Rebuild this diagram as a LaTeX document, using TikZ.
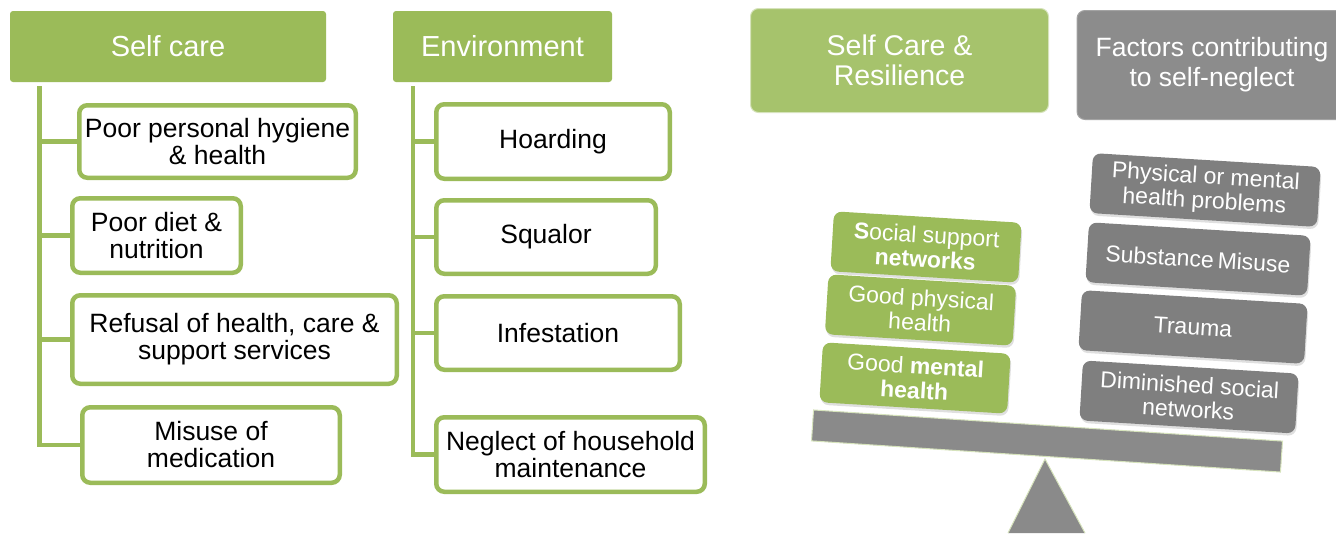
\documentclass[tikz,border=0pt]{standalone}
\usepackage{fontspec}
\setmainfont{Liberation Sans}
\usetikzlibrary{shadows}
\definecolor{grn}{HTML}{9BBB59}
\definecolor{lgrn}{HTML}{A6C36C}
\definecolor{pgrn}{HTML}{D6E3BC}
\definecolor{hgray}{HTML}{8C8C8C}
\definecolor{bgray}{HTML}{7F7F7F}
\definecolor{beamgray}{HTML}{8A8A8A}
\begin{document}
\begin{tikzpicture}[x=1pt,y=-1pt,
  hdr/.style={fill=grn, rounded corners=3pt, text=white, font=\fontsize{29}{31}\selectfont, inner sep=0pt, align=center},
  item/.style={draw=grn, line width=4.5pt, rounded corners=8pt, fill=white, font=\fontsize{26.5}{27}\selectfont, align=center, inner sep=0pt},
  spine/.style={draw=grn, line width=4.5pt},
  bighdr/.style={rounded corners=8pt, text=white, align=center, inner sep=0pt, line width=1pt},
  gbox/.style={fill=grn, rounded corners=8pt, text=white, font=\fontsize{23}{24.5}\selectfont, align=center, inner sep=0pt, rotate=-3.5, minimum width=188pt, minimum height=60pt, drop shadow={opacity=0.25, shadow xshift=1pt, shadow yshift=-2.5pt}},
  ybox/.style={fill=bgray, rounded corners=8pt, text=white, font=\fontsize{23}{24.5}\selectfont, align=center, inner sep=0pt, rotate=-3.5, minimum height=60pt, drop shadow={opacity=0.25, shadow xshift=1pt, shadow yshift=-2.5pt}}
]
\useasboundingbox (0,0) rectangle (1336,533);

% ---------- Self care column ----------
\node[hdr, minimum width=316pt, minimum height=71pt] (sc) at (168,46.5) {Self care};
\node[item, minimum width=276.5pt, minimum height=72.5pt] (s1) at (217.5,141.5) {Poor personal hygiene\\ \& health};
\node[item, minimum width=168.5pt, minimum height=74.5pt] (s2) at (156.5,235.5) {Poor diet \&\\ nutrition};
\node[item, minimum width=324.5pt, minimum height=88.5pt] (s3) at (234.5,339.5) {Refusal of health, care \&\\ support services};
\node[item, minimum width=257.5pt, minimum height=75.5pt] (s4) at (211,445) {Misuse of\\ medication};
\coordinate (sctop) at (39.5,86);
\draw[spine] (sctop) |- (s4.west);
\draw[spine] (sctop |- s1.west) -- (s1.west);
\draw[spine] (sctop |- s2.west) -- (s2.west);
\draw[spine] (sctop |- s3.west) -- (s3.west);

% ---------- Environment column ----------
\node[hdr, minimum width=219pt, minimum height=71pt] (env) at (502.5,46.5) {Environment};
\node[item, minimum width=233.5pt, minimum height=74.5pt] (e1) at (553,141.5) {Hoarding};
\node[item, minimum width=219.5pt, minimum height=73.5pt] (e2) at (546,237) {Squalor};
\node[item, minimum width=243.5pt, minimum height=73.5pt] (e3) at (558,333) {Infestation};
\node[item, minimum width=268.5pt, minimum height=74.5pt] (e4) at (570.5,454.5) {Neglect of household\\ maintenance};
\coordinate (envtop) at (413,86);
\draw[spine] (envtop) |- (e4.west);
\draw[spine] (envtop |- e1.west) -- (e1.west);
\draw[spine] (envtop |- e2.west) -- (e2.west);
\draw[spine] (envtop |- e3.west) -- (e3.west);

% ---------- Balance ----------
\node[bighdr, fill=lgrn, draw=pgrn, minimum width=298pt, minimum height=104pt, font=\fontsize{28.5}{30.5}\selectfont] (res) at (899.5,60.5) {Self Care \&\\ Resilience};
\node[bighdr, fill=hgray, draw=hgray!80!white, minimum width=270pt, minimum height=109pt, font=\fontsize{26.5}{30}\selectfont] (fac) at (1212,65) {Factors contributing\\ to self-neglect};

% fulcrum
\coordinate (apex) at (1045,459);
\coordinate (bl) at (1008,533);
\coordinate (br) at (1085,533);
\fill[beamgray] (bl) -- (apex) -- (br) -- cycle;
\draw[pgrn, line width=1pt] (bl) -- (apex) -- (br);

% beam
\node[fill=beamgray, draw=pgrn, line width=1pt, rotate=-3.8, minimum width=470pt, minimum height=31pt, inner sep=0pt] (beam) at (1047,441) {};

% green stack
\node[gbox] (g3) at (915,378) {Good \textbf{mental}\\ \textbf{health}};
\node[gbox] (g2) at (920.5,310) {Good physical\\ health};
\node[gbox] (g1) at (926,247) {\textbf{S}ocial support\\ \textbf{networks}};

% gray stack
\node[ybox, minimum width=216pt] (r4) at (1189,397) {Diminished social\\ networks};
\node[ybox, minimum width=226pt] (r3) at (1193,327) {Trauma};
\node[ybox, minimum width=222pt] (r2) at (1198,259) {Substance\,Misuse};
\node[ybox, minimum width=228pt] (r1) at (1205,190) {Physical or mental\\ health problems};
\end{tikzpicture}
\end{document}
